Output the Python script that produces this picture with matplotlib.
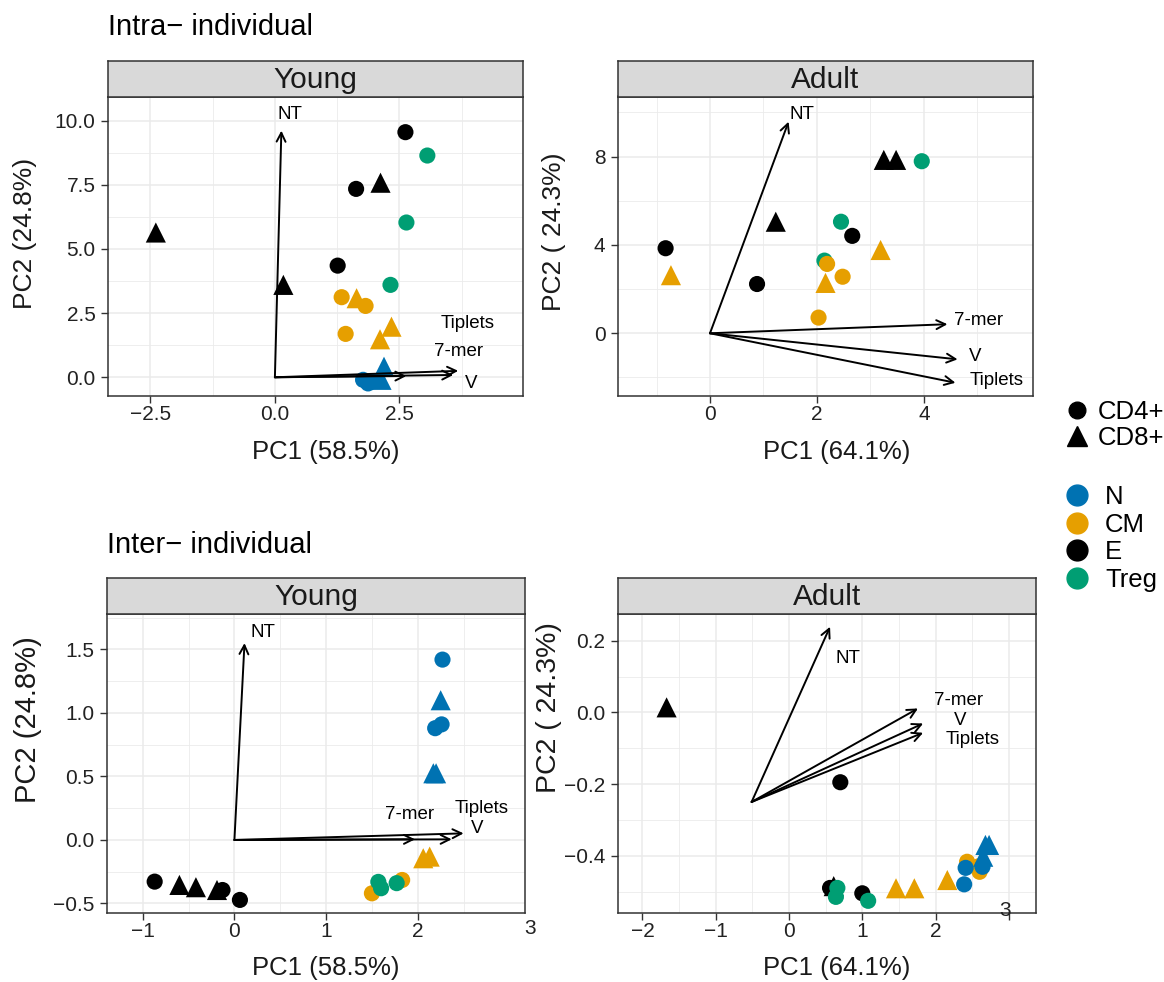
import numpy as np
import matplotlib.pyplot as plt
from matplotlib.lines import Line2D
from matplotlib.transforms import blended_transform_factory

plt.rcParams['font.family'] = ['Liberation Sans', 'DejaVu Sans']

# ---- data ----
subsets = ['N', 'CM', 'E', 'Treg']
subset_colors = ['#0072B2', '#E69F00', '#000000', '#009E73']
cells = ['CD4+', 'CD8+']
loading_names = ['NT', '7-mer', 'V', 'Tiplets']

# intra-individual, young
yi_pc1 = [-2.39, 0.17, 1.26, 1.63, 2.12, 2.62, 3.06, 2.64, 2.32, 1.34, 1.64, 1.82, 1.42, 2.34, 2.11,
          2.19, 2.14, 1.77, 1.87, 1.98]
yi_pc2 = [5.64, 3.60, 4.35, 7.34, 7.58, 9.55, 8.64, 6.03, 3.60, 3.12, 3.08, 2.78, 1.69, 1.97, 1.48,
          0.41, -0.10, -0.10, -0.24, -0.15]
yi_subset = ['E', 'E', 'E', 'E', 'E', 'E', 'Treg', 'Treg', 'Treg', 'CM', 'CM', 'CM', 'CM', 'CM', 'CM',
             'N', 'N', 'N', 'N', 'N']
yi_cell = ['CD8+', 'CD8+', 'CD4+', 'CD4+', 'CD8+', 'CD4+', 'CD4+', 'CD4+', 'CD4+', 'CD4+', 'CD8+', 'CD4+',
           'CD4+', 'CD8+', 'CD8+', 'CD8+', 'CD8+', 'CD4+', 'CD4+', 'CD4+']
yi_origin = (0.0, 0.0)
yi_tip_x = [0.13, 2.64, 3.58, 3.68]
yi_tip_y = [9.61, 0.05, 0.09, 0.25]
yi_lab_x = [0.31, 3.69, 3.93, 3.86]
yi_lab_y = [10.22, 1.00, -0.23, 2.10]

# intra-individual, adult
ai_pc1 = [-0.83, 0.88, 2.66, 1.23, 3.25, 3.48, 2.45, 2.14, 3.96, -0.73, 2.16, 3.19, 2.19, 2.48, 2.03]
ai_pc2 = [3.85, 2.23, 4.41, 5.05, 7.85, 7.85, 5.05, 3.29, 7.79, 2.63, 2.28, 3.77, 3.14, 2.56, 0.71]
ai_subset = ['E', 'E', 'E', 'E', 'E', 'E', 'Treg', 'Treg', 'Treg', 'CM', 'CM', 'CM', 'CM', 'CM', 'CM']
ai_cell = ['CD4+', 'CD4+', 'CD4+', 'CD8+', 'CD8+', 'CD8+', 'CD4+', 'CD4+', 'CD4+', 'CD8+', 'CD8+', 'CD8+',
           'CD4+', 'CD4+', 'CD4+']
ai_origin = (0.0, 0.0)
ai_tip_x = [1.47, 4.44, 4.63, 4.59]
ai_tip_y = [9.58, 0.41, -1.18, -2.24]
ai_lab_x = [1.72, 5.02, 4.95, 5.36]
ai_lab_y = [9.89, 0.60, -1.03, -2.16]

# inter-individual, young
ye_pc1 = [2.27, 2.19, 2.26, 2.25, 2.17, 2.20, 2.06, 2.13, 1.50, 1.83, 1.57, 1.60, 1.77,
          -0.87, -0.13, 0.06, -0.60, -0.42, -0.19]
ye_pc2 = [1.42, 0.88, 0.91, 1.10, 0.525, 0.525, -0.144, -0.131, -0.42, -0.315, -0.33, -0.38, -0.34,
          -0.328, -0.394, -0.472, -0.354, -0.372, -0.394]
ye_subset = ['N', 'N', 'N', 'N', 'N', 'N', 'CM', 'CM', 'CM', 'CM', 'Treg', 'Treg', 'Treg',
             'E', 'E', 'E', 'E', 'E', 'E']
ye_cell = ['CD4+', 'CD4+', 'CD4+', 'CD8+', 'CD8+', 'CD8+', 'CD8+', 'CD8+', 'CD4+', 'CD4+', 'CD4+', 'CD4+',
           'CD4+', 'CD4+', 'CD4+', 'CD4+', 'CD8+', 'CD8+', 'CD8+']
ye_origin = (0.0, 0.0)
ye_tip_x = [0.11, 1.97, 2.37, 2.50]
ye_tip_y = [1.55, 0.005, 0.005, 0.052]
ye_lab_x = [0.31, 1.91, 2.65, 2.70]
ye_lab_y = [1.632, 0.197, 0.092, 0.25]

# inter-individual, adult
ae_pc1 = [-1.67, 0.70, 0.56, 0.61, 1.00, 0.66, 0.64, 1.08, 1.46, 1.71, 2.16, 2.43, 2.60, 2.58,
          2.39, 2.41, 2.64, 2.65, 2.68, 2.73]
ae_pc2 = [0.014, -0.195, -0.49, -0.485, -0.505, -0.49, -0.515, -0.526, -0.491, -0.491, -0.468,
          -0.417, -0.445, -0.43, -0.48, -0.434, -0.431, -0.403, -0.37, -0.37]
ae_subset = ['E', 'E', 'E', 'E', 'E', 'Treg', 'Treg', 'Treg', 'CM', 'CM', 'CM', 'CM', 'CM', 'CM',
             'N', 'N', 'N', 'N', 'N', 'N']
ae_cell = ['CD8+', 'CD4+', 'CD4+', 'CD8+', 'CD4+', 'CD4+', 'CD4+', 'CD4+', 'CD8+', 'CD8+', 'CD8+',
           'CD4+', 'CD4+', 'CD4+', 'CD4+', 'CD4+', 'CD4+', 'CD8+', 'CD8+', 'CD8+']
ae_origin = (-0.51, -0.25)
ae_tip_x = [0.56, 1.76, 1.83, 1.83]
ae_tip_y = [0.239, 0.011, -0.031, -0.057]
ae_lab_x = [0.80, 2.31, 2.34, 2.50]
ae_lab_y = [0.151, 0.032, -0.024, -0.077]

# ---- layout (pixels of a 1164x982 canvas) ----
W, H = 1164, 982
fig = plt.figure(figsize=(W / 100, H / 100), dpi=100)


def box(l, t, r, b):
    return [l / W, 1 - b / H, (r - l) / W, (b - t) / H]


color_of = dict(zip(subsets, subset_colors))
marker_of = {'CD4+': 'o', 'CD8+': '^'}
size_of = {'o': 135, '^': 210}
dark = '#333333'


def panel(rect, strip, pc1, pc2, subset, cell, origin, tip_x, tip_y, lab_x, lab_y,
          xlim, ylim, xticks, yticks, xminor, yminor, fmt):
    l, t, r, b = rect
    ax = fig.add_axes(box(l, t, r, b))
    for x, y, s, c in zip(pc1, pc2, subset, cell):
        m = marker_of[c]
        ax.scatter(x, y, s=size_of[m], marker=m, color=color_of[s], edgecolors='none', zorder=3)
    for name, tx, ty, lx, ly in zip(loading_names, tip_x, tip_y, lab_x, lab_y):
        ax.annotate('', xy=(tx, ty), xytext=origin,
                    arrowprops=dict(arrowstyle='->', color='black', lw=1.4,
                                    mutation_scale=16, shrinkA=0, shrinkB=0), zorder=4)
        ax.text(lx, ly, name, ha='center', va='center', fontsize=13.5, zorder=5)
    ax.set_xlim(xlim)
    ax.set_ylim(ylim)
    ax.set_xticks(xticks)
    ax.set_yticks(yticks)
    ax.set_yticklabels([fmt.format(v) if v >= 0 else '\u2212' + fmt.format(-v) for v in yticks])
    ax.set_xticks(xminor, minor=True)
    ax.set_yticks(yminor, minor=True)
    ax.set_axisbelow(True)
    ax.grid(which='major', color='#EBEBEB', lw=1.1)
    ax.grid(which='minor', color='#EBEBEB', lw=0.6)
    ax.tick_params(which='minor', length=0)
    ax.tick_params(which='major', length=5, width=1, color=dark, labelsize=15, labelcolor='#222222')
    ax.tick_params(axis='x', pad=1.5)
    ax.tick_params(axis='y', pad=4)
    for sp in ax.spines.values():
        sp.set_color(dark)
        sp.set_linewidth(1.1)
    sax = fig.add_axes(box(l, t - 36, r, t))
    sax.set_facecolor('#D9D9D9')
    sax.set_xticks([])
    sax.set_yticks([])
    for sp in sax.spines.values():
        sp.set_color(dark)
        sp.set_linewidth(1.1)
    sax.text(0.5, 0.47, strip, ha='center', va='center', fontsize=21.5, color='#1A1A1A',
             transform=sax.transAxes)
    return ax


ax1 = panel((108, 96.5, 523, 396), 'Young', yi_pc1, yi_pc2, yi_subset, yi_cell, yi_origin,
            yi_tip_x, yi_tip_y, yi_lab_x, yi_lab_y, (-3.35, 4.98), (-0.73, 10.94),
            [-2.5, 0, 2.5], [0, 2.5, 5, 7.5, 10], [-1.25, 1.25, 3.75], [1.25, 3.75, 6.25, 8.75], '{:.1f}')
ax1.set_xticklabels(['\u22122.5', '0.0', '2.5'])

ax2 = panel((618, 96.5, 1033, 396), 'Adult', ai_pc1, ai_pc2, ai_subset, ai_cell, ai_origin,
            ai_tip_x, ai_tip_y, ai_lab_x, ai_lab_y, (-1.72, 6.04), (-2.84, 10.72),
            [0, 2, 4], [0, 4, 8], [-1, 1, 3, 5], [-2, 2, 6, 10], '{:.0f}')

ax3 = panel((107, 613.5, 525, 913), 'Young', ye_pc1, ye_pc2, ye_subset, ye_cell, ye_origin,
            ye_tip_x, ye_tip_y, ye_lab_x, ye_lab_y, (-1.39, 3.17), (-0.575, 1.783),
            [-1, 0, 1, 2], [-0.5, 0, 0.5, 1.0, 1.5], [-0.5, 0.5, 1.5, 2.5],
            [-0.25, 0.25, 0.75, 1.25, 1.75], '{:.1f}')
tr3 = blended_transform_factory(ax3.transData, ax3.transAxes)
ax3.text(3.22, -0.053, '3', transform=tr3, ha='center', va='center', fontsize=15, color='#222222',
         clip_on=False)

ax4 = panel((617.5, 613.5, 1036, 913), 'Adult', ae_pc1, ae_pc2, ae_subset, ae_cell, ae_origin,
            ae_tip_x, ae_tip_y, ae_lab_x, ae_lab_y, (-2.34, 3.37), (-0.56, 0.276),
            [-2, -1, 0, 1, 2, 3], [-0.4, -0.2, 0.0, 0.2], [-1.5, -0.5, 0.5, 1.5, 2.5],
            [-0.5, -0.3, -0.1, 0.1], '{:.1f}')
ax4.set_xticklabels(['\u22122', '\u22121', '0', '1', '2', ''])
tr4 = blended_transform_factory(ax4.transData, ax4.transAxes)
ax4.text(2.95, 0.008, '3', transform=tr4, ha='center', va='center', fontsize=15, color='#222222',
         clip_on=False)

# titles and axis labels
fig.text(108 / W, 1 - 27 / H, 'Intra\u2212 individual', fontsize=21, va='center', ha='left')
fig.text(107 / W, 1 - 545 / H, 'Inter\u2212 individual', fontsize=21, va='center', ha='left')

fig.text(326 / W, 1 - 452 / H, 'PC1 (58.5%)', fontsize=18.5, ha='center', va='center', color='#1A1A1A')
fig.text(837 / W, 1 - 452 / H, 'PC1 (64.1%)', fontsize=18.5, ha='center', va='center', color='#1A1A1A')
fig.text(326 / W, 1 - 968 / H, 'PC1 (58.5%)', fontsize=18.5, ha='center', va='center', color='#1A1A1A')
fig.text(837 / W, 1 - 968 / H, 'PC1 (64.1%)', fontsize=18.5, ha='center', va='center', color='#1A1A1A')

fig.text(25 / W, 1 - 233 / H, 'PC2 (24.8%)', fontsize=19, rotation=90, ha='center', va='center',
         color='#1A1A1A')
fig.text(554 / W, 1 - 232 / H, 'PC2 ( 24.3%)', fontsize=19, rotation=90, ha='center', va='center',
         color='#1A1A1A')
fig.text(28 / W, 1 - 720 / H, 'PC2 (24.8%)', fontsize=21, rotation=90, ha='center', va='center',
         color='#1A1A1A')
fig.text(549 / W, 1 - 708 / H, 'PC2 ( 24.3%)', fontsize=20.5, rotation=90, ha='center', va='center',
         color='#1A1A1A')

# legends
shape_handles = [Line2D([], [], ls='', marker='o', color='black', markersize=12),
                 Line2D([], [], ls='', marker='^', color='black', markersize=14)]
fig.legend(shape_handles, cells, loc='center left', bbox_to_anchor=(1064 / W, 1 - 425 / H),
           frameon=False, fontsize=18.5, handlelength=1.0, handletextpad=0.3, labelspacing=0.05,
           borderpad=0, borderaxespad=0)
color_handles = [Line2D([], [], ls='', marker='o', color=c, markersize=15) for c in subset_colors]
fig.legend(color_handles, subsets, loc='center left', bbox_to_anchor=(1064 / W, 1 - 538.5 / H),
           frameon=False, fontsize=18.5, handlelength=1.0, handletextpad=0.6, labelspacing=0.15,
           borderpad=0, borderaxespad=0)

fig.savefig('out.png', dpi=100)
